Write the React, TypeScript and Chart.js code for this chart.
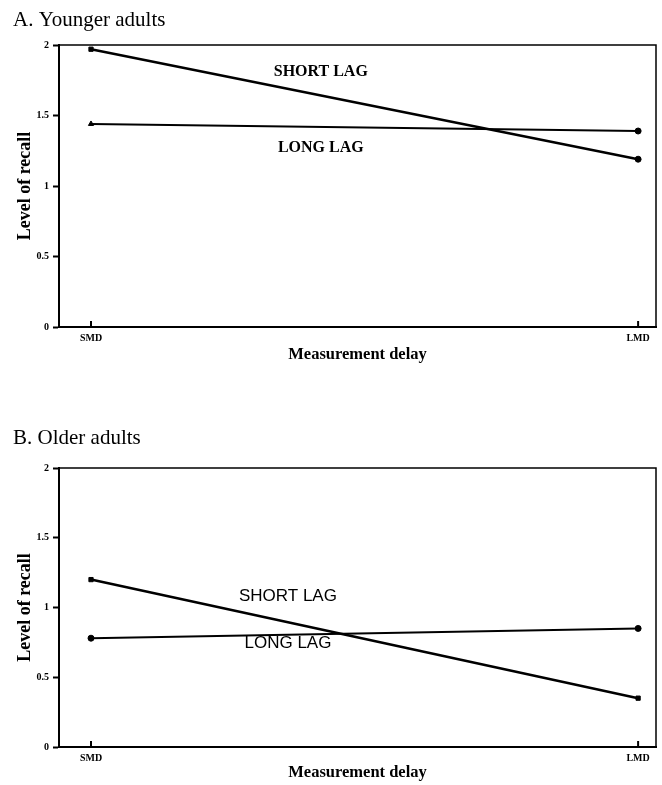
import React, { useEffect, useRef } from "react";
import { Chart, registerables } from "chart.js";

Chart.register(...registerables);

// ---- Data ----
const categories = ["SMD", "LMD"];
const categoryPositions = [0, 1];
const yTicks = [0, 0.5, 1, 1.5, 2];
const yTickLabels = ["0", "0.5", "1", "1.5", "2"];

const youngShortLag = [1.97, 1.19];
const youngLongLag = [1.44, 1.39];
const olderShortLag = [1.2, 0.35];
const olderLongLag = [0.78, 0.85];

const youngShortStyles = ["rect", "circle"];
const youngLongStyles = ["triangle", "circle"];
const olderShortStyles = ["rect", "rect"];
const olderLongStyles = ["circle", "circle"];

const X_MIN = -0.0585;
const X_MAX = 1.0327;

type Panel = {
  title: string;
  short: number[];
  long: number[];
  shortStyles: string[];
  longStyles: string[];
  shortLabel: { x: number; y: number };
  longLabel: { x: number; y: number };
  annoFont: string;
  height: number;
  top: number;
  titlePadTop: number;
  titlePadBottom: number;
  xScaleHeight: number;
  xTitlePadBottom: number;
};

const panels: Panel[] = [
  {
    title: "A. Younger adults",
    short: youngShortLag,
    long: youngLongLag,
    shortStyles: youngShortStyles,
    longStyles: youngLongStyles,
    shortLabel: { x: 0.42, y: 1.81 },
    longLabel: { x: 0.42, y: 1.27 },
    annoFont: "bold 16px 'Liberation Serif', serif",
    height: 392,
    top: 0,
    titlePadTop: 8,
    titlePadBottom: 11.8,
    xScaleHeight: 65,
    xTitlePadBottom: 27.5,
  },
  {
    title: "B. Older adults",
    short: olderShortLag,
    long: olderLongLag,
    shortStyles: olderShortStyles,
    longStyles: olderLongStyles,
    shortLabel: { x: 0.36, y: 1.08 },
    longLabel: { x: 0.36, y: 0.745 },
    annoFont: "17px 'Liberation Sans', Arial, sans-serif",
    height: 393,
    top: 392,
    titlePadTop: 34,
    titlePadBottom: 16.8,
    xScaleHeight: 38,
    xTitlePadBottom: 2.5,
  },
];

const framePlugin = {
  id: "frameAndLabels",
  afterDraw(chart: any, _args: any, opts: any) {
    const { ctx, chartArea } = chart;
    const xs = chart.scales.x;
    const ys = chart.scales.y;
    ctx.save();
    ctx.strokeStyle = "#000";
    ctx.lineWidth = 1.5;
    ctx.beginPath();
    ctx.moveTo(chartArea.left, chartArea.top);
    ctx.lineTo(chartArea.right, chartArea.top);
    ctx.lineTo(chartArea.right, chartArea.bottom);
    ctx.stroke();
    // inward x ticks
    ctx.lineWidth = 2;
    categoryPositions.forEach((v) => {
      const px = xs.getPixelForValue(v);
      ctx.beginPath();
      ctx.moveTo(px, chartArea.bottom);
      ctx.lineTo(px, chartArea.bottom - 6);
      ctx.stroke();
    });
    // annotations
    ctx.fillStyle = "#000";
    ctx.font = opts.font;
    ctx.textAlign = "center";
    ctx.textBaseline = "middle";
    ctx.fillText("SHORT LAG", xs.getPixelForValue(opts.shortLabel.x), ys.getPixelForValue(opts.shortLabel.y));
    ctx.fillText("LONG LAG", xs.getPixelForValue(opts.longLabel.x), ys.getPixelForValue(opts.longLabel.y));
    ctx.restore();
  },
};

function PanelChart({ p }: { p: Panel }) {
  const ref = useRef<HTMLCanvasElement>(null);
  useEffect(() => {
    if (!ref.current) return;
    const toPoints = (vals: number[]) =>
      vals.map((v, i) => ({ x: categoryPositions[i], y: v }));
    const chart = new Chart(ref.current, {
      type: "line",
      data: {
        datasets: [
          {
            label: "SHORT LAG",
            data: toPoints(p.short),
            borderColor: "#000",
            backgroundColor: "#000",
            borderWidth: 2.6,
            pointStyle: p.shortStyles as any,
            pointRadius: 3,
            pointBorderWidth: 1,
          },
          {
            label: "LONG LAG",
            data: toPoints(p.long),
            borderColor: "#000",
            backgroundColor: "#000",
            borderWidth: 2,
            pointStyle: p.longStyles as any,
            pointRadius: 3,
            pointBorderWidth: 1,
          },
        ],
      },
      plugins: [framePlugin],
      options: {
        animation: false,
        responsive: false,
        devicePixelRatio: 1,
        layout: { padding: { left: 13, right: 6, top: 0, bottom: 0 } },
        plugins: {
          legend: { display: false },
          tooltip: { enabled: false },
          title: {
            display: true,
            text: p.title,
            align: "start",
            color: "#000",
            font: { family: "'Liberation Serif', serif", size: 21, weight: "normal" },
            padding: { top: p.titlePadTop, bottom: p.titlePadBottom },
          },
          frameAndLabels: {
            font: p.annoFont,
            shortLabel: p.shortLabel,
            longLabel: p.longLabel,
          },
        } as any,
        scales: {
          x: {
            type: "linear",
            min: X_MIN,
            max: X_MAX,
            afterBuildTicks: (s: any) => {
              s.ticks = categoryPositions.map((v) => ({ value: v }));
            },
            afterFit: (s: any) => {
              s.height = p.xScaleHeight;
            },
            ticks: {
              color: "#000",
              font: { family: "'Liberation Serif', serif", size: 10, weight: "bold" },
              padding: 5,
              maxRotation: 0,
              autoSkip: false,
              callback: (v: any) => {
                const i = categoryPositions.indexOf(Number(v));
                return i >= 0 ? categories[i] : "";
              },
            },
            grid: { display: true, drawOnChartArea: false, drawTicks: false },
            border: { display: true, color: "#000", width: 2 },
            title: {
              display: true,
              text: "Measurement delay",
              color: "#000",
              font: { family: "'Liberation Serif', serif", size: 16.5, weight: "bold" },
              padding: { top: 0, bottom: p.xTitlePadBottom },
            },
          },
          y: {
            type: "linear",
            min: 0,
            max: 2,
            afterBuildTicks: (s: any) => {
              s.ticks = yTicks.map((v) => ({ value: v }));
            },
            afterFit: (s: any) => {
              s.width = 46;
            },
            ticks: {
              color: "#000",
              font: { family: "'Liberation Serif', serif", size: 10, weight: "bold" },
              padding: 4,
              callback: (v: any) => {
                const i = yTicks.indexOf(Number(v));
                return i >= 0 ? yTickLabels[i] : "";
              },
            },
            grid: {
              display: true,
              drawOnChartArea: false,
              drawTicks: true,
              tickLength: 6,
              tickWidth: 2,
              tickColor: "#000",
            },
            border: { display: true, color: "#000", width: 2 },
            title: {
              display: true,
              text: "Level of recall",
              color: "#000",
              font: { family: "'Liberation Serif', serif", size: 18, weight: "bold" },
              padding: { top: 1.5, bottom: 0 },
            },
          },
        },
      } as any,
    });
    return () => chart.destroy();
  }, [p]);
  return (
    <canvas
      ref={ref}
      width={662}
      height={p.height}
      style={{ position: "absolute", left: 0, top: p.top, width: 662, height: p.height }}
    />
  );
}

export default function App() {
  return (
    <div style={{ position: "fixed", left: 0, top: 0, width: 662, height: 785, background: "#fff" }}>
      {panels.map((p) => (
        <PanelChart key={p.title} p={p} />
      ))}
    </div>
  );
}
